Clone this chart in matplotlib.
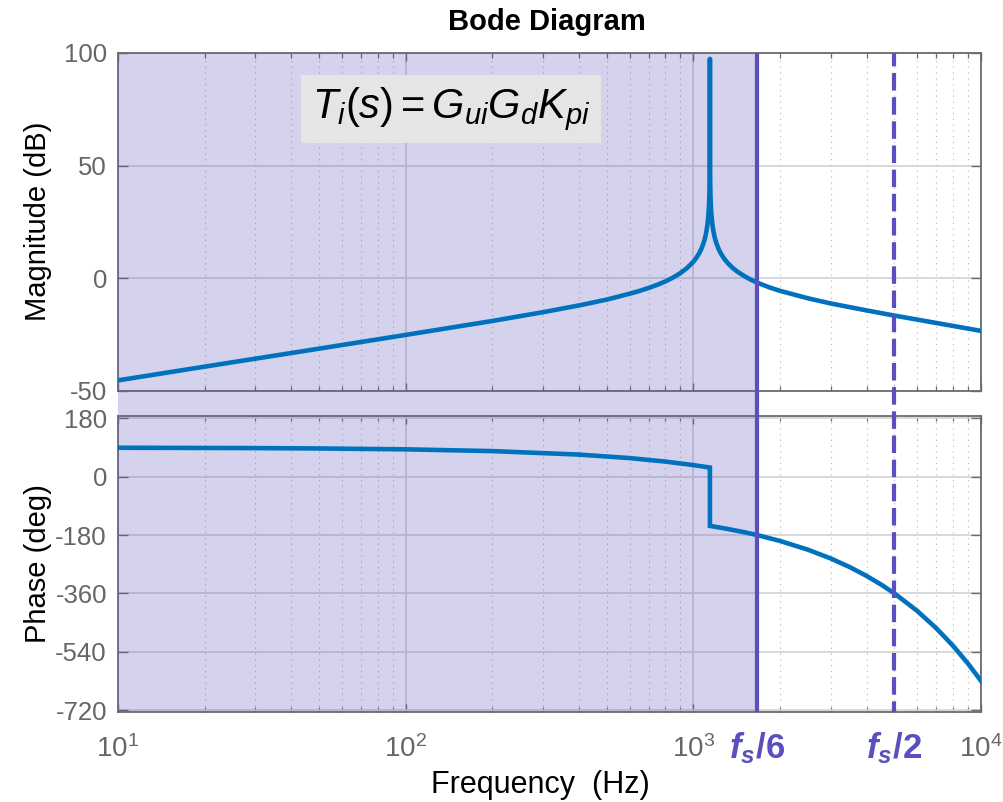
import matplotlib
matplotlib.use("Agg")
import matplotlib.pyplot as plt
from matplotlib.patches import Rectangle
from matplotlib.lines import Line2D
from matplotlib.transforms import blended_transform_factory

plt.rcParams["font.family"] = "Liberation Sans"
plt.rcParams["axes.unicode_minus"] = False
plt.rcParams["mathtext.fontset"] = "custom"
plt.rcParams["mathtext.rm"] = "Liberation Sans"
plt.rcParams["mathtext.it"] = "Liberation Sans:italic"
plt.rcParams["mathtext.bf"] = "Liberation Sans:italic:bold"

# ---- frequency response samples (Hz, dB, deg) ----
mag_freq = [10, 20, 50, 100, 200, 300, 400, 500, 600, 650, 700, 750, 800,
            850, 900, 950, 1000, 1020, 1040, 1055, 1070, 1083, 1095, 1104,
            1112, 1119, 1125, 1129, 1133, 1136, 1138, 1139, 1140, 1141,
            1142, 1143, 1144, 1145, 1146, 1148, 1151, 1155, 1160, 1166,
            1175, 1187, 1200, 1225, 1250, 1285, 1320, 1370, 1420, 1480,
            1550, 1600, 1700, 1850, 2000, 2500, 3000, 4000, 5000, 7000, 10000]
mag_db = [-45.5, -39.4, -31.4, -25.3, -19.1, -15.2, -12.2, -9.6, -7.0, -5.75,
          -4.4, -3.0, -1.5, 0.2, 2.1, 4.4, 7.2, 8.65, 10.3, 11.7, 13.4, 15.2,
          17.2, 19.1, 21.2, 23.6, 26.2, 28.6, 31.8, 35.3, 38.8, 41.3, 44.8,
          50.9, 97.4, 50.9, 44.9, 41.4, 38.9, 35.3, 31.8, 28.7, 25.8, 23.4,
          20.6, 18.0, 15.8, 12.8, 10.6, 8.3, 6.5, 4.5, 2.9, 1.4, -0.1, -1.0,
          -2.5, -4.3, -5.7, -9.0, -11.3, -14.4, -16.7, -20.0, -23.5]

phase_freq = [10, 30, 50, 100, 200, 400, 600, 800, 1000, 1142, 1142, 1300,
              1500, 1667, 2000, 2500, 3000, 3500, 4000, 4500, 5000, 6000,
              7000, 8000, 9000, 10000]
phase_deg = [89.5, 88.4, 87.3, 84.6, 79.2, 68.4, 57.6, 46.8, 36.0, 28.3,
             -151.7, -160.2, -171.0, -180.0, -198.0, -225.0, -252.0, -279.0,
             -306.0, -333.0, -360.0, -414.0, -468.0, -522.0, -576.0, -630.0]

fs = 10000
f_sixth = fs / 6
f_half = fs / 2

mag_ticks = [-50, 0, 50, 100]
phase_ticks = [180, 0, -180, -360, -540, -720]

W, H = 1004, 802
curve_color = "#0072BD"
mark_color = "#5a4fbf"
tick_gray = "#666666"
spine_gray = "#6b6b6b"

fig = plt.figure(figsize=(W / 100, H / 100), dpi=100)
fig.patch.set_facecolor("white")

ax_mag = fig.add_axes([118 / W, 1 - 390.5 / H, 863 / W, 337.5 / H])
ax_ph = fig.add_axes([118 / W, 1 - 712 / H, 863 / W, 296.5 / H])

for ax in (ax_mag, ax_ph):
    ax.set_xscale("log")
    ax.set_xlim(10, 1e4)
    ax.set_axisbelow(True)
    ax.grid(True, which="major", color="#d6d6d6", lw=1.3, ls="-")
    ax.grid(True, which="minor", axis="x", color="#bdbdbd", lw=0.8,
            ls=(0, (1.2, 4)))
    ax.tick_params(which="both", direction="in", top=True, right=True,
                   colors=spine_gray, labelcolor=tick_gray)
    ax.tick_params(axis="y", which="major", length=7, width=1.0, pad=8,
                   labelsize=18.5)
    ax.tick_params(axis="x", which="major", length=6, width=1.0, pad=17,
                   labelsize=20)
    ax.tick_params(axis="x", which="minor", length=3.8, width=0.9)
    for sp in ax.spines.values():
        sp.set_color(spine_gray)
        sp.set_linewidth(1.3)
    ax.axvspan(10, f_sixth, color=mark_color, alpha=0.25, lw=0, zorder=2.6)

ax_mag.plot(mag_freq, mag_db, color=curve_color, lw=3.3, zorder=3,
            solid_joinstyle="round", solid_capstyle="round")
ax_mag.set_ylim(-50, 100)
ax_mag.set_yticks(mag_ticks)
ax_mag.tick_params(axis="x", which="both", labelbottom=False)

ax_ph.plot(phase_freq, phase_deg, color=curve_color, lw=3.3, zorder=3,
           solid_joinstyle="miter")
ax_ph.set_ylim(-726, 189)
ax_ph.set_yticks(phase_ticks)
ax_ph.set_yticklabels([str(t) for t in phase_ticks])

# transfer function label
ax_mag.text(0.386, 0.834, r"$T_i(s) = G_{ui}G_dK_{pi}$",
            transform=ax_mag.transAxes, ha="center", va="center",
            fontsize=30, color="black", zorder=6,
            bbox=dict(boxstyle="square,pad=0.25", facecolor="#e5e5e5",
                      edgecolor="none"))

# shaded band continues through the gap between the two axes
bt = blended_transform_factory(ax_mag.transData, fig.transFigure)
fig.add_artist(Rectangle((10, 1 - 415.5 / H), f_sixth - 10,
                         (415.5 - 390.5) / H, transform=bt,
                         facecolor=mark_color, alpha=0.25, lw=0, zorder=1))

# fs/6 and fs/2 markers across both panels
y_top, y_bot = 1 - 53 / H, 1 - 712 / H
fig.add_artist(Line2D([f_sixth, f_sixth], [y_top, y_bot], transform=bt,
                      color=mark_color, lw=3, zorder=10,
                      solid_capstyle="butt"))
fig.add_artist(Line2D([f_half, f_half], [y_top, y_bot], transform=bt,
                      color=mark_color, lw=3, zorder=10,
                      ls=(1.0, (4.2, 1.6)), dash_capstyle="butt"))

fig.text(f_sixth, 1 - 758 / H, r"$\mathbf{f_s}$/6", transform=bt,
         ha="center", va="baseline", fontsize=25, fontweight="bold",
         color=mark_color)
fig.text(f_half, 1 - 758 / H, r"$\mathbf{f_s}$/2", transform=bt,
         ha="center", va="baseline", fontsize=25, fontweight="bold",
         color=mark_color)

# titles and axis labels
fig.text(547 / W, 1 - 22 / H, "Bode Diagram", ha="center", va="center",
         fontsize=21, fontweight="bold", color="black")
fig.text(38 / W, 1 - 221 / H, "Magnitude (dB)", rotation=90,
         ha="center", va="center", fontsize=21, color="black")
fig.text(38 / W, 1 - 563.7 / H, "Phase (deg)", rotation=90,
         ha="center", va="center", fontsize=21, color="black")
fig.text(540 / W, 1 - 785 / H, "Frequency  (Hz)", ha="center", va="center",
         fontsize=22, color="black")

fig.savefig("out.png", dpi=100)
